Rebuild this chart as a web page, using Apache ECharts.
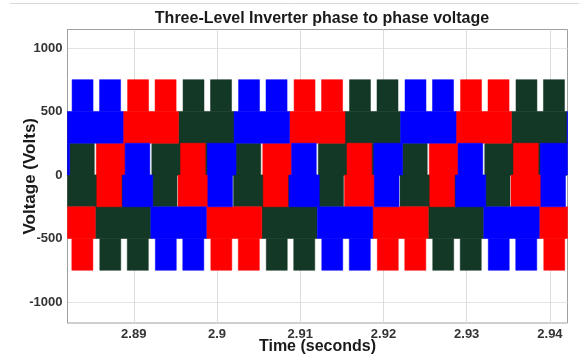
<!DOCTYPE html>
<html>
<head>
<meta charset="utf-8">
<script src="https://cdn.jsdelivr.net/npm/echarts@6/dist/echarts.min.js"></script>
<style>html,body{margin:0;padding:0;background:#fff}#c{width:579px;height:358px}</style>
</head>
<body>
<div id="c"></div>
<script>
// ---- chart data ----
const titleText = 'Three-Level Inverter phase to phase voltage';
const xName = 'Time (seconds)';
const yName = 'Voltage (Volts)';
const xTicks = [2.89, 2.90, 2.91, 2.92, 2.93, 2.94];
const xTickLabels = ['2.89', '2.9', '2.91', '2.92', '2.93', '2.94'];
const yTicks = [-1000, -500, 0, 500, 1000];
const yTickLabels = ['-1000', '-500', '0', '500', '1000'];
const xRange = [2.88204, 2.94211];
const yRange = [-1165, 1145];
// voltage levels: inner band edge, outer band edge, pulse peak
const levels = [250, 500, 750];

// positive (+250..+500) blocks and their +750 pulses
const blueHigh = [[2.88205, 2.88872], [2.90205, 2.90872], [2.92205, 2.92872], [2.94205, 2.94872]];
const blueHighPulses = [[2.88259, 2.88511], [2.88589, 2.88842], [2.90259, 2.90511], [2.90589, 2.90842], [2.92259, 2.92511], [2.92589, 2.92842]];
const redHigh = [[2.88872, 2.89538], [2.90872, 2.91538], [2.92872, 2.93538]];
const redHighPulses = [[2.88926, 2.89178], [2.89256, 2.89509], [2.90926, 2.91178], [2.91256, 2.91509], [2.92926, 2.93178], [2.93256, 2.93509]];
const greenHigh = [[2.87538, 2.88205], [2.89538, 2.90205], [2.91538, 2.92205], [2.93538, 2.94205]];
const greenHighPulses = [[2.89592, 2.89844], [2.89922, 2.90175], [2.91592, 2.91844], [2.91922, 2.92175], [2.93592, 2.93844], [2.93922, 2.94175]];

// negative (-250..-500) blocks and their -750 pulses
const blueLow = [[2.89205, 2.89872], [2.91205, 2.91872], [2.93205, 2.93872]];
const blueLowPulses = [[2.89259, 2.89511], [2.89589, 2.89842], [2.91259, 2.91511], [2.91589, 2.91842], [2.93259, 2.93511], [2.93589, 2.93842]];
const redLow = [[2.87872, 2.88538], [2.89872, 2.90538], [2.91872, 2.92538], [2.93872, 2.94538]];
const redLowPulses = [[2.88256, 2.88509], [2.89926, 2.90178], [2.90256, 2.90509], [2.91926, 2.92178], [2.92256, 2.92509], [2.93926, 2.94178]];
const greenLow = [[2.88538, 2.89205], [2.90538, 2.91205], [2.92538, 2.93205]];
const greenLowPulses = [[2.88592, 2.88844], [2.88922, 2.89175], [2.90592, 2.90844], [2.90922, 2.91175], [2.92592, 2.92844], [2.92922, 2.93175]];

// transition segments in the -250..+250 band: [upperStart, upperEnd, lowerStart, lowerEnd]
const blueMid = [
  [2.87884, 2.88229, 2.87890, 2.88187], [2.88896, 2.89193, 2.88866, 2.89229],
  [2.89884, 2.90229, 2.89890, 2.90187], [2.90896, 2.91193, 2.90866, 2.91229],
  [2.91884, 2.92229, 2.91890, 2.92187], [2.92896, 2.93193, 2.92866, 2.93229],
  [2.93884, 2.94229, 2.93890, 2.94187]
];
const redMid = [
  [2.88550, 2.88896, 2.88556, 2.88854], [2.89562, 2.89860, 2.89532, 2.89896],
  [2.90550, 2.90896, 2.90556, 2.90854], [2.91562, 2.91860, 2.91532, 2.91896],
  [2.92550, 2.92896, 2.92556, 2.92854], [2.93562, 2.93860, 2.93532, 2.93896]
];
const greenMid = [
  [2.88229, 2.88526, 2.88199, 2.88562], [2.89217, 2.89562, 2.89223, 2.89520],
  [2.90229, 2.90526, 2.90199, 2.90562], [2.91217, 2.91562, 2.91223, 2.91520],
  [2.92229, 2.92526, 2.92199, 2.92562], [2.93217, 2.93562, 2.93223, 2.93520]
];

const seriesNames = ['Vab', 'Vbc', 'Vca'];
const colors = { blue: '#0000ff', red: '#ff0000', green: '#143826' };

// ---- build rectangles [x0, x1, yLow, yHigh] ----
function buildRects(high, highP, low, lowP, mid) {
  const [inner, outer, peak] = levels;
  const r = [];
  high.forEach(([a, b]) => r.push([a, b, inner, outer]));
  highP.forEach(([a, b]) => r.push([a, b, outer, peak]));
  low.forEach(([a, b]) => r.push([a, b, -outer, -inner]));
  lowP.forEach(([a, b]) => r.push([a, b, -peak, -outer]));
  mid.forEach(([us, ue, ls, le]) => { r.push([us, ue, 0, inner]); r.push([ls, le, -inner, 0]); });
  return r;
}
function buildBase(high, low) {
  const inner = levels[0];
  const r = [];
  high.forEach(([a, b]) => r.push([a, b, 0, inner]));
  low.forEach(([a, b]) => r.push([a, b, -inner, 0]));
  return r;
}

function renderRect(params, api) {
  const p0 = api.coord([api.value(0), api.value(3)]);
  const p1 = api.coord([api.value(1), api.value(2)]);
  const shape = echarts.graphic.clipRectByRect(
    { x: p0[0], y: p0[1], width: p1[0] - p0[0], height: p1[1] - p0[1] },
    { x: params.coordSys.x, y: params.coordSys.y, width: params.coordSys.width, height: params.coordSys.height }
  );
  if (!shape) return;
  const c = api.visual('color');
  return { type: 'rect', shape: shape, style: { fill: c, stroke: c, lineWidth: 0.5 } };
}

function rectSeries(name, color, data) {
  return {
    type: 'custom', name: name, renderItem: renderRect, data: data,
    itemStyle: { color: color }, encode: { x: [0, 1], y: [2, 3] },
    silent: true, animation: false
  };
}

const chart = echarts.init(document.getElementById('c'), null, { renderer: 'canvas' });
const textColor = '#1a1a1a';
const font = 'Liberation Sans, Arial, Helvetica, sans-serif';

chart.setOption({
  animation: false,
  backgroundColor: '#ffffff',
  title: {
    text: titleText, left: 317, top: 6, textAlign: 'center',
    textStyle: { fontSize: 16, fontWeight: 'bold', color: textColor, fontFamily: font }
  },
  grid: {
    left: 67.5, right: 11.5, top: 29.5, bottom: 35, show: true,
    borderColor: '#a0a0a0', borderWidth: 1, backgroundColor: 'transparent',
    containLabel: false, outerBoundsMode: 'none'
  },
  xAxis: {
    type: 'value', min: xRange[0], max: xRange[1],
    name: xName, nameLocation: 'middle', nameGap: 16, nameMoveOverlap: false,
    nameTextStyle: { fontSize: 16, fontWeight: 'bold', color: textColor, fontFamily: font },
    axisLine: { show: true, lineStyle: { color: '#a0a0a0' } },
    axisTick: { show: false, customValues: xTicks },
    axisLabel: {
      customValues: xTicks, margin: 5, fontSize: 13, fontWeight: 'bold', color: '#333', fontFamily: font,
      formatter: v => { const i = xTicks.findIndex(t => Math.abs(t - v) < 1e-6); return i >= 0 ? xTickLabels[i] : ''; }
    },
    splitLine: { show: true, lineStyle: { color: '#dcdcdc', width: 1 } }
  },
  yAxis: {
    type: 'value', min: yRange[0], max: yRange[1],
    name: yName, nameLocation: 'middle', nameGap: 29, nameMoveOverlap: false,
    nameTextStyle: { fontSize: 17, fontWeight: 'bold', color: textColor, fontFamily: font },
    axisLine: { show: true, lineStyle: { color: '#a0a0a0' } },
    axisTick: { show: false, customValues: yTicks },
    axisLabel: {
      customValues: yTicks, margin: 5, fontSize: 13, fontWeight: 'bold', color: '#333', fontFamily: font,
      formatter: v => { const i = yTicks.findIndex(t => Math.abs(t - v) < 1e-6); return i >= 0 ? yTickLabels[i] : ''; }
    },
    splitLine: { show: true, lineStyle: { color: '#e4e4e4', width: 1 } }
  },
  graphic: [{ type: 'line', shape: { x1: 10, y1: 3.5, x2: 579, y2: 3.5 }, style: { stroke: '#d8d8d8', lineWidth: 1 }, silent: true }],
  series: [
    rectSeries(seriesNames[2], colors.green, buildBase(greenHigh, greenLow)),
    rectSeries(seriesNames[2], colors.green, buildRects(greenHigh, greenHighPulses, greenLow, greenLowPulses, greenMid)),
    rectSeries(seriesNames[1], colors.red, buildRects(redHigh, redHighPulses, redLow, redLowPulses, redMid)),
    rectSeries(seriesNames[0], colors.blue, buildRects(blueHigh, blueHighPulses, blueLow, blueLowPulses, blueMid))
  ]
});
</script>
</body>
</html>
